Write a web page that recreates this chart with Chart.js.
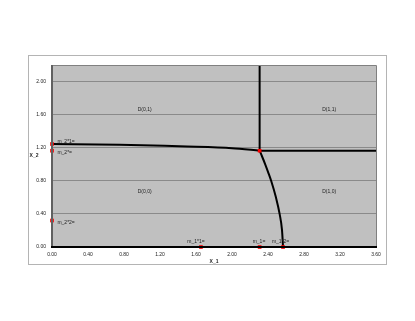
<!DOCTYPE html>
<html>
<head>
<meta charset="utf-8">
<script src="https://cdn.jsdelivr.net/npm/chart.js@4"></script>
<style>
  html, body { margin: 0; padding: 0; background: #fff; }
  canvas { display: block; }
</style>
</head>
<body>
<canvas id="chart" width="415" height="321"></canvas>
<script>
// axis ticks
const xTicks = [0, 0.4, 0.8, 1.2, 1.6, 2.0, 2.4, 2.8, 3.2, 3.6];
const yTicks = [0, 0.4, 0.8, 1.2, 1.6, 2.0];

// boundary curves
const upperCurveX = [0, 0.5, 1.0, 1.5, 2.0, 2.307];
const upperCurveY = [1.245, 1.24, 1.23, 1.215, 1.195, 1.164];
const lowerCurveX = [2.307, 2.332, 2.369, 2.403, 2.435, 2.488, 2.529, 2.556, 2.567];
const lowerCurveY = [1.164, 1.1, 1.0, 0.9, 0.8, 0.6, 0.4, 0.2, 0];
const vertLineX = [2.307, 2.307];
const vertLineY = [1.164, 2.2];
const horizLineX = [2.307, 3.6];
const horizLineY = [1.164, 1.164];

// red markers
const markerX = [0, 0, 0, 1.655, 2.307, 2.567, 2.307];
const markerY = [1.245, 1.164, 0.32, 0, 0, 0, 1.164];

// marker labels
const markerLabels = ["m_2*1=", "m_2*=", "m_2*2=", "m_1*1=", "m_1=", "m_1*2="];
const markerLabelX = [0.06, 0.06, 0.06, 1.60, 2.30, 2.54];
const markerLabelY = [1.27, 1.135, 0.30, 0.07, 0.07, 0.07];
const markerLabelAlign = ["left", "left", "left", "center", "center", "center"];

// region labels
const regionLabels = ["D(0,1)", "D(1,1)", "D(0,0)", "D(1,0)"];
const regionX = [1.03, 3.08, 1.03, 3.08];
const regionY = [1.66, 1.66, 0.67, 0.67];

const toPts = (xs, ys) => xs.map((x, i) => ({ x: x, y: ys[i] }));

const lineStyle = {
    showLine: true,
    borderColor: "#000",
    borderWidth: 2,
    pointRadius: 0,
    fill: false,
    order: 2
};

const frame = {
    id: "frame",
    beforeDraw(chart) {
        const ctx = chart.ctx;
        const a = chart.chartArea;
        ctx.save();
        ctx.fillStyle = "#fff";
        ctx.fillRect(0, 0, chart.width, chart.height);
        ctx.strokeStyle = "#b4b4b4";
        ctx.lineWidth = 1;
        ctx.strokeRect(28.5, 55.5, 358, 209);
        ctx.fillStyle = "#c0c0c0";
        ctx.fillRect(a.left, a.top, a.right - a.left, a.bottom - a.top);
        ctx.restore();
    },
    afterDatasetsDraw(chart) {
        const ctx = chart.ctx;
        const a = chart.chartArea;
        const xs = chart.scales.x, ys = chart.scales.y;
        ctx.save();
        ctx.strokeStyle = "#808080";
        ctx.lineWidth = 1;
        ctx.beginPath();
        ctx.moveTo(a.left, a.top + 0.5);
        ctx.lineTo(a.right + 0.5, a.top + 0.5);
        ctx.lineTo(a.right + 0.5, a.bottom);
        ctx.stroke();
        ctx.strokeStyle = "#606060";
        ctx.lineWidth = 2;
        ctx.beginPath();
        ctx.moveTo(a.left, a.top);
        ctx.lineTo(a.left, a.bottom);
        ctx.stroke();
        ctx.strokeStyle = "#000";
        ctx.beginPath();
        ctx.moveTo(a.left - 1, a.bottom);
        ctx.lineTo(a.right + 1, a.bottom);
        ctx.stroke();

        ctx.fillStyle = "#222";
        ctx.font = "5px 'Liberation Sans', Arial, sans-serif";
        ctx.textBaseline = "middle";
        markerLabels.forEach((t, i) => {
            ctx.textAlign = markerLabelAlign[i];
            ctx.fillText(t, xs.getPixelForValue(markerLabelX[i]), ys.getPixelForValue(markerLabelY[i]));
        });
        ctx.textAlign = "center";
        regionLabels.forEach((t, i) => {
            ctx.fillText(t, xs.getPixelForValue(regionX[i]), ys.getPixelForValue(regionY[i]));
        });

        // horizontal y-axis title
        ctx.font = "bold 5px 'Liberation Sans', Arial, sans-serif";
        ctx.fillText("X_2", a.left - 18, (a.top + a.bottom) / 2);
        ctx.restore();
    }
};

new Chart(document.getElementById("chart"), {
    type: "scatter",
    data: {
        datasets: [
            {
                data: toPts(markerX, markerY),
                pointStyle: "rect",
                pointRadius: 2.6,
                pointBackgroundColor: "#ff0000",
                pointBorderColor: "#ff0000",
                borderWidth: 0,
                clip: false,
                order: 0
            },
            Object.assign({ data: toPts(upperCurveX, upperCurveY), tension: 0.3 }, lineStyle),
            Object.assign({ data: toPts(lowerCurveX, lowerCurveY), cubicInterpolationMode: "monotone" }, lineStyle),
            Object.assign({ data: toPts(vertLineX, vertLineY) }, lineStyle),
            Object.assign({ data: toPts(horizLineX, horizLineY), clip: false }, lineStyle)
        ]
    },
    options: {
        responsive: false,
        animation: false,
        layout: { padding: { left: 28, right: 39, top: 65, bottom: 56 } },
        plugins: {
            legend: { display: false },
            tooltip: { enabled: false }
        },
        scales: {
            x: {
                type: "linear",
                min: 0,
                max: 3.6,
                afterBuildTicks: s => { s.ticks = xTicks.map(v => ({ value: v })); },
                afterFit: s => { s.height = 18; },
                grid: { display: false, drawTicks: false },
                border: { display: false },
                ticks: {
                    padding: 5,
                    color: "#222",
                    font: { size: 5, family: "'Liberation Sans', Arial, sans-serif" },
                    maxRotation: 0,
                    callback: v => v.toFixed(2)
                },
                title: {
                    display: true,
                    text: "X_1",
                    color: "#222",
                    padding: { top: 1, bottom: 0 },
                    font: { size: 5, weight: "bold", family: "'Liberation Sans', Arial, sans-serif" }
                }
            },
            y: {
                type: "linear",
                min: 0,
                max: 2.2,
                afterBuildTicks: s => { s.ticks = yTicks.map(v => ({ value: v })); },
                afterFit: s => { s.width = 24; },
                grid: { color: "#8a8a8a", lineWidth: 1, drawTicks: false },
                border: { display: false },
                ticks: {
                    padding: 6,
                    color: "#222",
                    font: { size: 5, family: "'Liberation Sans', Arial, sans-serif" },
                    callback: v => v.toFixed(2)
                }
            }
        }
    },
    plugins: [frame]
});
</script>
</body>
</html>
